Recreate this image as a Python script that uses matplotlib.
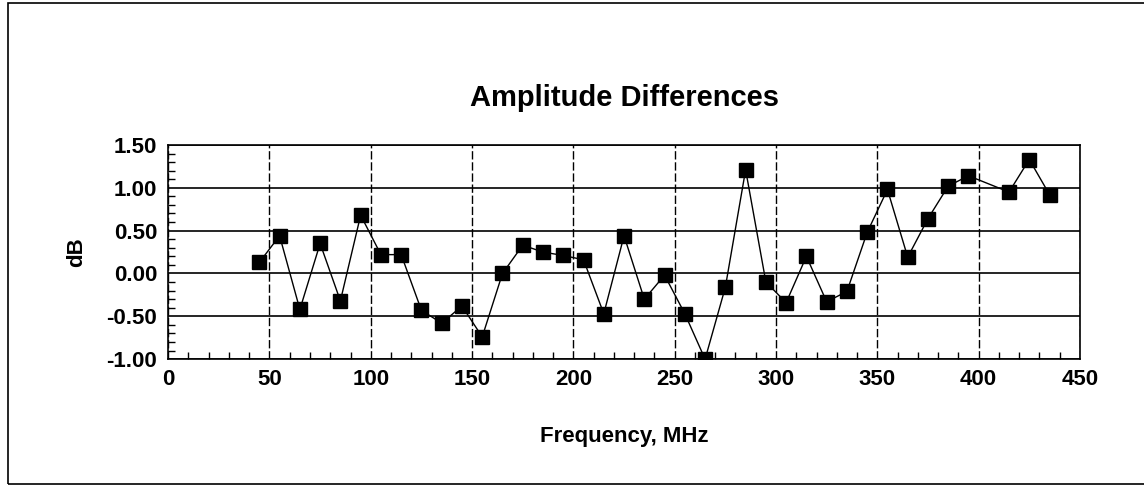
import numpy as np
import matplotlib.pyplot as plt
from matplotlib.patches import Rectangle
from matplotlib.ticker import MultipleLocator

plt.rcParams.update({
    "font.family": ["Liberation Sans", "DejaVu Sans"],
    "font.weight": "bold",
})

freq = [45, 55, 65, 75, 85, 95, 105, 115, 125, 135, 145, 155, 165, 175, 185,
        195, 205, 215, 225, 235, 245, 255, 265, 275, 285, 295, 305, 315, 325,
        335, 345, 355, 365, 375, 385, 395, 415, 425, 435]
diff_db = [0.13, 0.44, -0.42, 0.35, -0.32, 0.68, 0.22, 0.22, -0.43, -0.58,
           -0.38, -0.74, 0.00, 0.33, 0.25, 0.21, 0.16, -0.47, 0.44, -0.30,
           -0.02, -0.47, -1.00, -0.16, 1.21, -0.10, -0.34, 0.20, -0.33, -0.21,
           0.48, 0.98, 0.19, 0.64, 1.02, 1.14, 0.95, 1.33, 0.92]
x_ticks = [0, 50, 100, 150, 200, 250, 300, 350, 400, 450]
y_ticks = [-1.0, -0.5, 0.0, 0.5, 1.0, 1.5]

fig = plt.figure(figsize=[11.44, 4.88], dpi=100)
ax = fig.add_axes([0.147, 0.264, 0.797, 0.439])

ax.plot(freq, diff_db, color='black', lw=1, marker='s', ms=10,
        mfc='black', mec='black', zorder=3)

ax.set_xlim(0, 450)
ax.set_ylim(-1.0, 1.5)
ax.set_xticks(x_ticks)
ax.set_yticks(y_ticks)
ax.set_yticklabels(['%.2f' % v for v in y_ticks])
ax.xaxis.set_minor_locator(MultipleLocator(10))
ax.yaxis.set_minor_locator(MultipleLocator(0.1))
ax.tick_params(which='major', length=0, labelsize=16)
ax.tick_params(which='minor', direction='in', length=5, width=1)
ax.tick_params(axis='y', pad=8)
ax.tick_params(axis='x', pad=7)

ax.grid(axis='y', color='black', lw=1.2)
ax.grid(axis='x', color='black', lw=1, ls=(0, (6, 2)))
for s in ax.spines.values():
    s.set_color('black')
    s.set_linewidth(1.2)

ax.set_title('Amplitude Differences', fontsize=21, fontweight='bold', pad=28)
ax.set_xlabel('Frequency, MHz', fontsize=16, fontweight='bold', labelpad=26)
ax.set_ylabel('dB', fontsize=16, fontweight='bold', labelpad=14)

fig.patches.append(Rectangle((0.007, 0.008), 1.0, 0.986, transform=fig.transFigure,
                             fill=False, edgecolor='black', lw=1.2))

plt.savefig('out.png', dpi=100)
